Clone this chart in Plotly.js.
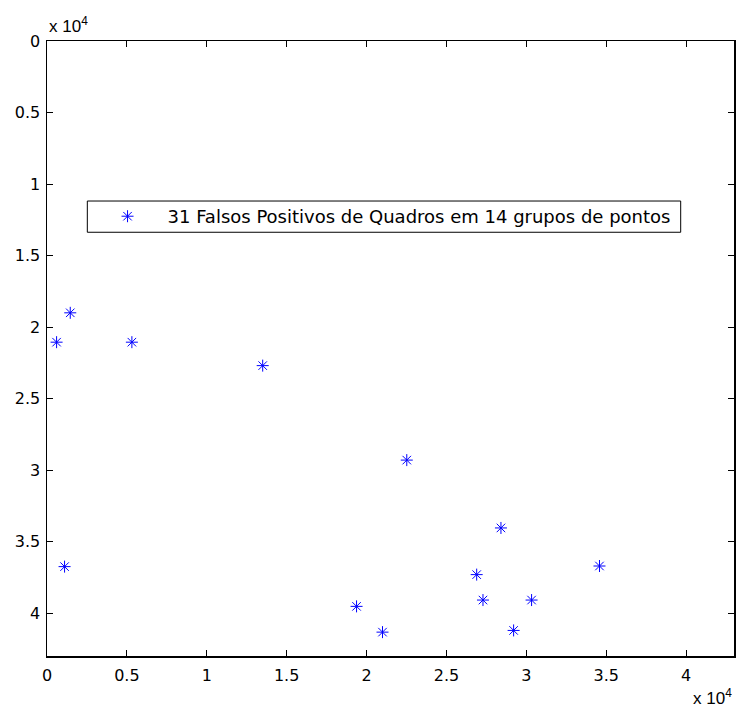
<!DOCTYPE html>
<html>
<head>
<meta charset="utf-8">
<script src="https://cdn.plot.ly/plotly-3.0.1.min.js"></script>
<style>html,body{margin:0;padding:0;background:#fff;}</style>
</head>
<body>
<div id="chart" style="width:736px;height:708px;"></div>
<script>
// Data (units: pixels of the original image)
const xValues = [1456, 600, 5313, 13500, 22519, 1100, 19375, 21000, 28413, 26894, 27288, 30331, 29206, 34581];
const yValues = [19005, 21058, 21058, 22697, 29303, 36750, 39530, 41331, 34046, 37310, 39089, 39089, 41212, 36707];
const seriesName = "31 Falsos Positivos de Quadros em 14 grupos de pontos";
const tickVals = [0, 5000, 10000, 15000, 20000, 25000, 30000, 35000, 40000];
const tickText = ["0", "0.5", "1", "1.5", "2", "2.5", "3", "3.5", "4"];
const axisMax = 43000;
const exponentLabel = "x 10<sup>4</sup>";

const trace = {
  x: xValues,
  y: yValues,
  type: "scatter",
  mode: "markers",
  name: seriesName,
  showlegend: true,
  marker: {symbol: "asterisk-open", size: 10, color: "#0000ff", line: {color: "#0000ff", width: 1}}
};

const tickFont = {family: "DejaVu Sans", size: 16, color: "#000"};
const axisCommon = {
  showgrid: false, zeroline: false,
  showline: true, linecolor: "#000", linewidth: 1.5, mirror: "ticks",
  ticks: "inside", ticklen: 6, tickcolor: "#000", tickwidth: 1,
  tickmode: "array", tickvals: tickVals, ticktext: tickText,
  tickfont: tickFont
};

const layout = {
  width: 736, height: 708,
  margin: {l: 47, r: 2, t: 41, b: 52, pad: 0},
  paper_bgcolor: "#fff", plot_bgcolor: "#fff",
  xaxis: Object.assign({}, axisCommon, {range: [0, axisMax], ticklabelstandoff: 4}),
  yaxis: Object.assign({}, axisCommon, {range: [axisMax, 0], ticklabelstandoff: 2}),
  showlegend: true,
  legend: {
    x: 0.059, y: 0.7447, xanchor: "left", yanchor: "top",
    bgcolor: "rgba(0,0,0,0)", bordercolor: "rgba(0,0,0,0)", borderwidth: 0,
    font: {family: "DejaVu Sans", size: 18, color: "#000"},
    itemwidth: 70
  },
  shapes: [
    {type: "rect", xref: "paper", yref: "paper", x0: 0.0587, x1: 0.9224, y0: 0.689, y1: 0.7398,
     line: {color: "#000", width: 1}, fillcolor: "#fff", layer: "below"}
  ],
  annotations: [
    {xref: "paper", yref: "paper", x: 0, y: 1, xanchor: "left", yanchor: "bottom",
     yshift: 3, showarrow: false, text: exponentLabel,
     font: {family: "Liberation Sans", size: 17, color: "#000"}},
    {xref: "paper", yref: "paper", x: 1, y: 0, xanchor: "right", yanchor: "top",
     yshift: -28, showarrow: false, text: exponentLabel,
     font: {family: "Liberation Sans", size: 17, color: "#000"}}
  ]
};

Plotly.newPlot("chart", [trace], layout, {displayModeBar: false, staticPlot: true});
</script>
</body>
</html>
